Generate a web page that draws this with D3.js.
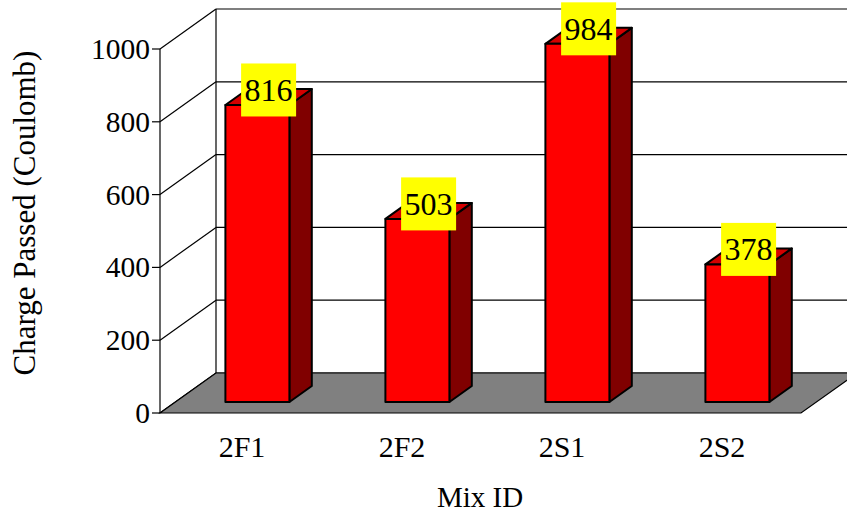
<!DOCTYPE html>
<html><head><meta charset="utf-8">
<script src="https://cdn.jsdelivr.net/npm/d3@7"></script>
<style>body{margin:0;background:#fff} svg{display:block}</style>
</head><body>
<svg id="chart" width="847" height="518"></svg>
<script>
// Data
const categories = ["2F1", "2F2", "2S1", "2S2"];
const values = [816, 503, 984, 378];
const yTicks = [0, 200, 400, 600, 800, 1000];
const yTitle = "Charge Passed (Coulomb)";
const xTitle = "Mix ID";

// 3D box geometry: full depth offset of back plane relative to front plane
const depthX = 56, depthY = -40;
const barFront = 0.275, barBack = 0.675; // bar position within the depth
const font = "'Liberation Serif', 'Times New Roman', serif";

const svg = d3.select("#chart");
const x0 = 160, x1 = 801;
const x = d3.scaleBand().domain(categories).range([162, 802])
  .paddingInner(0.6).paddingOuter(0.3);
const y = d3.scaleLinear().domain([0, 1000]).range([413, 49]);

// Back wall gridlines and frame
const back = svg.append("g").attr("stroke", "#000").attr("stroke-width", 1.2).attr("fill", "none");
yTicks.forEach(t => {
  back.append("line")
    .attr("x1", x0 + depthX).attr("x2", x1 + depthX)
    .attr("y1", y(t) + depthY).attr("y2", y(t) + depthY);
});
back.append("line").attr("x1", x0 + depthX).attr("x2", x0 + depthX)
  .attr("y1", y(0) + depthY).attr("y2", y(1000) + depthY);
// Left wall
yTicks.forEach(t => {
  back.append("line")
    .attr("x1", x0).attr("y1", y(t))
    .attr("x2", x0 + depthX).attr("y2", y(t) + depthY);
});
back.append("line").attr("x1", x0).attr("x2", x0)
  .attr("y1", y(0)).attr("y2", y(1000));

// Floor
svg.append("polygon")
  .attr("points", [[x0, y(0)], [x1, y(0)], [x1 + depthX, y(0) + depthY], [x0 + depthX, y(0) + depthY]].join(" "))
  .attr("fill", "#808080").attr("stroke", "#000").attr("stroke-width", 1.2);

// Y axis ticks and labels
const yAxis = svg.append("g");
yTicks.forEach(t => {
  yAxis.append("line").attr("x1", x0 - 8).attr("x2", x0)
    .attr("y1", y(t)).attr("y2", y(t)).attr("stroke", "#000").attr("stroke-width", 1.2);
  yAxis.append("text").attr("x", x0 - 10).attr("y", y(t))
    .attr("text-anchor", "end").attr("dominant-baseline", "central")
    .attr("font-family", font).attr("font-size", 29.5).text(t);
});

// Bars
const fdx = depthX * barFront, fdy = depthY * barFront;
const bdx = depthX * (barBack - barFront), bdy = depthY * (barBack - barFront);
categories.forEach((c, i) => {
  const v = values[i];
  const L = x(c) + fdx, R = L + x.bandwidth();
  const B = y(0) + fdy, T = y(v) + fdy;
  const g = svg.append("g").attr("stroke", "#000").attr("stroke-width", 2).attr("stroke-linejoin", "round");
  g.append("polygon").attr("fill", "#800000")
    .attr("points", [[R, B], [R + bdx, B + bdy], [R + bdx, T + bdy], [R, T]].join(" "));
  g.append("polygon").attr("fill", "#d40000")
    .attr("points", [[L, T], [R, T], [R + bdx, T + bdy], [L + bdx, T + bdy]].join(" "));
  g.append("rect").attr("fill", "#ff0000")
    .attr("x", L).attr("y", T).attr("width", R - L).attr("height", B - T);

  // value label
  const cx = (L + R) / 2 + bdx / 2, cy = T + bdy / 2 - 7;
  svg.append("rect").attr("x", cx - 27.5).attr("y", cy - 26.5)
    .attr("width", 55).attr("height", 53).attr("fill", "#ffff00");
  svg.append("text").attr("x", cx).attr("y", cy)
    .attr("text-anchor", "middle").attr("dominant-baseline", "central")
    .attr("font-family", font).attr("font-size", 32).text(v);
});

// Category labels
categories.forEach(c => {
  svg.append("text").attr("x", x(c) + x.bandwidth() / 2).attr("y", 457)
    .attr("text-anchor", "middle").attr("font-family", font).attr("font-size", 30).text(c);
});

// Axis titles
svg.append("text").attr("x", 480).attr("y", 507)
  .attr("text-anchor", "middle").attr("font-family", font).attr("font-size", 29).text(xTitle);
svg.append("text").attr("transform", "translate(35,213) rotate(-90)")
  .attr("text-anchor", "middle").attr("font-family", font).attr("font-size", 31).text(yTitle);
</script>
</body></html>
